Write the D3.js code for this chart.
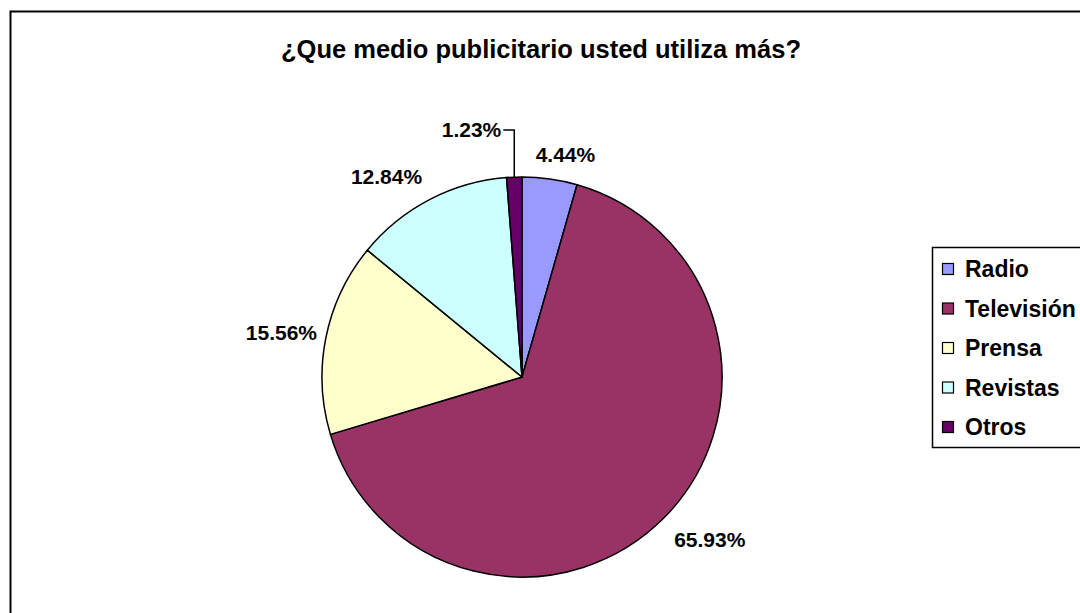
<!DOCTYPE html>
<html>
<head>
<meta charset="utf-8">
<script src="https://cdn.jsdelivr.net/npm/d3@7"></script>
<style>
  html, body { margin: 0; padding: 0; background: #fff; }
  svg { display: block; font-family: Arial, "Liberation Sans", sans-serif; }
</style>
</head>
<body>
<svg id="chart" width="1080" height="613"></svg>
<script>
// Survey results: advertising medium used most
const categories = ["Radio", "Televisión", "Prensa", "Revistas", "Otros"];
const percentages = [4.44, 65.93, 15.56, 12.84, 1.23];
const sliceColors = ["#9999FF", "#993366", "#FFFFCC", "#CCFFFF", "#660066"];
const chartTitle = "¿Que medio publicitario usted utiliza más?";

const svg = d3.select("#chart");
const W = 1080, H = 613;

// Chart area frame
svg.append("rect")
  .attr("x", 10.5).attr("y", 11.5)
  .attr("width", W + 20).attr("height", H + 20)
  .attr("fill", "#fff").attr("stroke", "#000").attr("stroke-width", 2);

// Title
svg.append("text")
  .attr("x", 541).attr("y", 58)
  .attr("text-anchor", "middle")
  .attr("font-size", 25.5).attr("font-weight", "bold")
  .attr("fill", "#000")
  .text(chartTitle);

// Pie geometry
const cx = 522, cy = 377, R = 200;
const data = categories.map((c, i) => ({ name: c, value: percentages[i], color: sliceColors[i] }));

const pie = d3.pie().value(d => d.value).sort(null);
const arcs = pie(data);
const arc = d3.arc().innerRadius(0).outerRadius(R);

const g = svg.append("g").attr("transform", `translate(${cx},${cy})`);

g.selectAll("path.slice")
  .data(arcs)
  .enter().append("path")
  .attr("class", "slice")
  .attr("d", arc)
  .attr("fill", d => d.data.color)
  .attr("stroke", "#000")
  .attr("stroke-width", 1.5)
  .attr("stroke-linejoin", "round");

// Percentage labels placed outside the pie along each slice's mid angle
const labelR = 226;
const labelShift = {
  "Radio": [12, 1],
  "Televisión": [27, 4],
  "Prensa": [-19, 0],
  "Revistas": [-31, 0]
};
const fmt = v => v.toFixed(2) + "%";
const midAngle = d => (d.startAngle + d.endAngle) / 2;

arcs.forEach(d => {
  const a = midAngle(d);
  const s = Math.sin(a), c = Math.cos(a);
  if (d.data.name === "Otros") {
    // Small slice: label lifted above with a leader line
    const px = R * s, py = -R * c;
    const ly = -247;
    const lx = px - 11;
    g.append("path")
      .attr("d", `M${px},${py}V${ly}H${lx}`)
      .attr("fill", "none").attr("stroke", "#000").attr("stroke-width", 1.5);
    g.append("text")
      .attr("x", lx - 2).attr("y", ly)
      .attr("dy", "0.35em")
      .attr("text-anchor", "end")
      .attr("font-size", 21).attr("font-weight", "bold")
      .text(fmt(d.data.value));
  } else {
    const sh = labelShift[d.data.name];
    g.append("text")
      .attr("x", labelR * s + sh[0])
      .attr("y", -labelR * c + sh[1])
      .attr("dy", "0.35em")
      .attr("text-anchor", "middle")
      .attr("font-size", 21).attr("font-weight", "bold")
      .text(fmt(d.data.value));
  }
});

// Legend
const legend = svg.append("g");
legend.append("rect")
  .attr("x", 932.5).attr("y", 247.5)
  .attr("width", 200).attr("height", 200)
  .attr("fill", "#fff").attr("stroke", "#000").attr("stroke-width", 1.5);

const rowY = d3.scalePoint().domain(categories).range([269, 427]);
const items = legend.selectAll("g.item")
  .data(data)
  .enter().append("g")
  .attr("class", "item")
  .attr("transform", d => `translate(0,${rowY(d.name)})`);

items.append("rect")
  .attr("x", 942.5).attr("y", -5.5)
  .attr("width", 11).attr("height", 11)
  .attr("fill", d => d.color)
  .attr("stroke", "#000").attr("stroke-width", 1.2);

items.append("text")
  .attr("x", 965).attr("y", 0)
  .attr("dy", "0.35em")
  .attr("font-size", 23).attr("font-weight", "bold")
  .text(d => d.name);
</script>
</body>
</html>
